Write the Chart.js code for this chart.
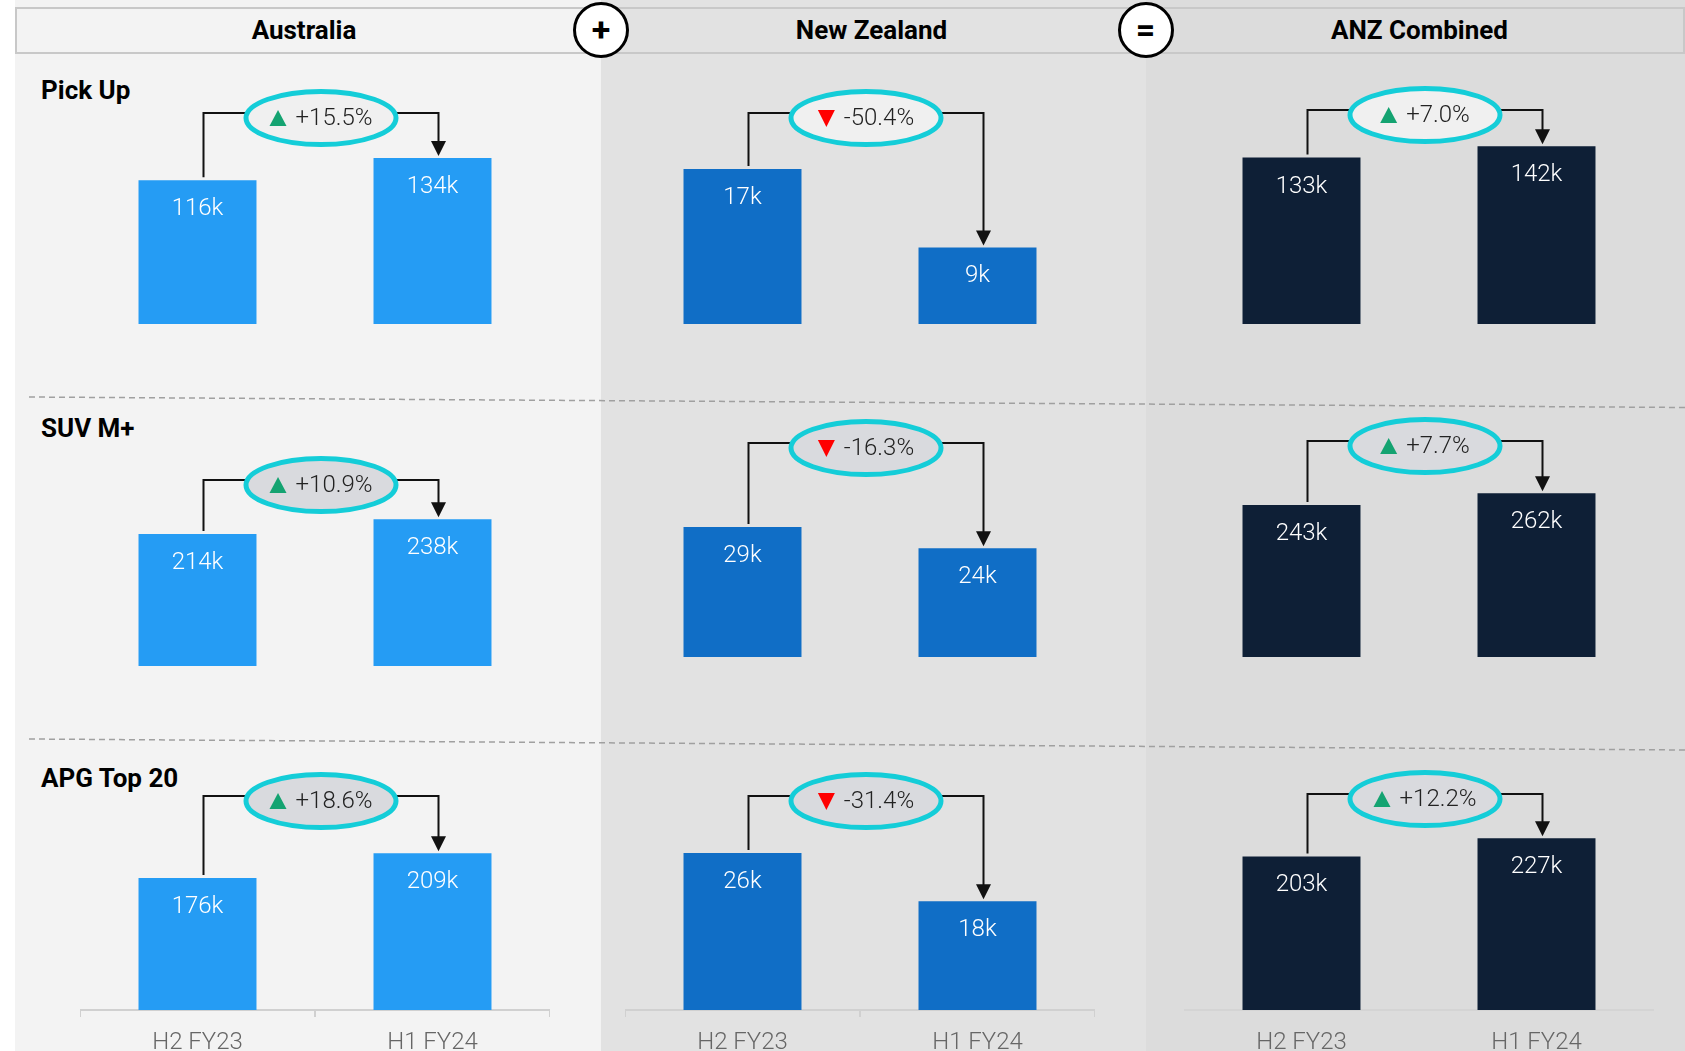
<!DOCTYPE html>
<html>
<head>
<meta charset="utf-8">
<script src="https://cdn.jsdelivr.net/npm/chart.js@4.4.1/dist/chart.umd.min.js"></script>
<style>
  html, body { margin: 0; padding: 0; overflow: hidden; background: #ffffff; }
  #page { position: relative; width: 1685px; height: 1051px; overflow: hidden; font-family: Roboto, 'Noto Sans', sans-serif; }
  .panel { position: absolute; top: 0; height: 1051px; }
  .header { position: absolute; left: 15px; top: 7px; width: 1666px; height: 43px; border: 2px solid #c8c8c8; }
  .title { position: absolute; top: 14px; width: 400px; text-align: center; font-size: 26px; font-weight: 700; line-height: 32px; color: #000; }
  .op { position: absolute; width: 50px; height: 50px; border: 3px solid #000; border-radius: 50%; background: #fff;
        font-size: 34px; font-weight: 700; line-height: 48px; text-align: center; color: #000; }
  .rowlabel { position: absolute; left: 41px; font-size: 26px; font-weight: 700; line-height: 32px; color: #000; }
  canvas { position: absolute; }
  svg { position: absolute; left: 0; top: 0; }
</style>
</head>
<body>
<div id="page">
  <div class="panel" style="left:15px;width:586px;background:#f3f3f3"></div>
  <div class="panel" style="left:601px;width:545px;background:#e2e2e2"></div>
  <div class="panel" style="left:1146px;width:539px;background:#dcdcdc"></div>
  <svg width="1685" height="1051">
    <line x1="29" y1="397" x2="1685" y2="407.5" stroke="#a0a0a0" stroke-width="1.5" stroke-dasharray="6,4"/>
    <line x1="29" y1="739" x2="1685" y2="750" stroke="#a0a0a0" stroke-width="1.5" stroke-dasharray="6,4"/>
  </svg>
  <div class="header"></div>
</div>
<script>
// Column and row names
const regions = ['Australia', 'New Zealand', 'ANZ Combined'];
const segments = ['Pick Up', 'SUV M+', 'APG Top 20'];
const periods = ['H2 FY23', 'H1 FY24'];

// Volumes in thousands, [H2 FY23, H1 FY24] per region
const pickUp = [[116, 134], [17.4, 8.6], [133, 142]];
const suvMPlus = [[214, 238], [28.8, 24.1], [243, 262]];
const apgTop20 = [[176, 209], [26, 18], [203, 227]];

// Period on period change (%) per region
const pickUpChange = [15.5, -50.4, 7.0];
const suvMPlusChange = [10.9, -16.3, 7.7];
const apgTop20Change = [18.6, -31.4, 12.2];

// Each small chart has its own y scale maximum (thousands)
const axisMax = [[197, 27.4, 195], [423, 55.8, 403], [340, 42.2, 337]];

const rowValues = [pickUp, suvMPlus, apgTop20];
const rowChanges = [pickUpChange, suvMPlusChange, apgTop20Change];

// Layout
const barColors = ['#259cf4', '#106ec6', '#0e1f36'];
const colLeft = [80, 625, 1184];
const plotWidth = 470;
const titleCenter = [304, 871.5, 1419.5];
const opCenter = [601, 1145.5];
const opSymbols = ['+', '='];
const rowTop = [80, 405, 755];
const rowBottom = [[323.5, 323.5, 323.5], [666, 657, 657], [1010, 1010, 1010]];
const rowLabelY = [90, 428, 778];
const bracketY = [[113, 113, 110], [480, 443, 441], [796, 796, 794]];
const ellipseFill = ['#f0f0f0', '#d9dade', '#d9dade'];
const AXIS_HEIGHT = 45;

const page = document.getElementById('page');

// Header titles and operators
regions.forEach((name, i) => {
    const d = document.createElement('div');
    d.className = 'title';
    d.style.left = (titleCenter[i] - 200) + 'px';
    d.textContent = name;
    page.appendChild(d);
});
opSymbols.forEach((s, i) => {
    const d = document.createElement('div');
    d.className = 'op';
    d.style.left = (opCenter[i] - 28) + 'px';
    d.style.top = (30 - 28) + 'px';
    d.textContent = s;
    page.appendChild(d);
});
segments.forEach((name, r) => {
    const d = document.createElement('div');
    d.className = 'rowlabel';
    d.style.top = (rowLabelY[r] - 16) + 'px';
    d.textContent = name;
    page.appendChild(d);
});

// Draws the value labels, the bracket arrow and the change bubble
const bracketPlugin = {
    id: 'bracket',
    afterDatasetsDraw(chart, args, opts) {
        const ctx = chart.ctx;
        const bars = chart.getDatasetMeta(0).data;
        const values = chart.data.datasets[0].data;

        ctx.save();
        // value labels inside bars
        ctx.font = '300 24px Roboto';
        ctx.fillStyle = '#ffffff';
        ctx.textAlign = 'center';
        ctx.textBaseline = 'middle';
        bars.forEach((b, i) => {
            ctx.fillText(Math.round(values[i]) + 'k', b.x, b.y + 29);
        });

        const b0 = bars[0], b1 = bars[1];
        const x0 = b0.x + 6, x1 = b1.x + 6;
        const y = opts.lineY;

        ctx.strokeStyle = '#111';
        ctx.lineWidth = 2;
        ctx.beginPath();
        ctx.moveTo(x0, b0.y - 3);
        ctx.lineTo(x0, y);
        ctx.lineTo(x1, y);
        ctx.lineTo(x1, b1.y - 15);
        ctx.stroke();

        ctx.fillStyle = '#111';
        ctx.beginPath();
        ctx.moveTo(x1 - 7.5, b1.y - 17);
        ctx.lineTo(x1 + 7.5, b1.y - 17);
        ctx.lineTo(x1, b1.y - 2);
        ctx.closePath();
        ctx.fill();

        // bubble
        const cx = (x0 + x1) / 2, cy = y + 5;
        ctx.beginPath();
        ctx.ellipse(cx, cy, 75, 26.5, 0, 0, Math.PI * 2);
        ctx.fillStyle = opts.fill;
        ctx.fill();
        ctx.lineWidth = 5;
        ctx.strokeStyle = '#14cdd8';
        ctx.stroke();

        const change = opts.change;
        const txt = (change > 0 ? '+' : '') + change.toFixed(1) + '%';
        ctx.font = '300 24px Roboto';
        const tw = ctx.measureText(txt).width;
        const triW = 17, gap = 9;
        const sx = cx - (triW + gap + tw) / 2;
        ctx.beginPath();
        if (change >= 0) {
            ctx.moveTo(sx, cy + 8);
            ctx.lineTo(sx + triW, cy + 8);
            ctx.lineTo(sx + triW / 2, cy - 8);
        } else {
            ctx.moveTo(sx, cy - 8);
            ctx.lineTo(sx + triW, cy - 8);
            ctx.lineTo(sx + triW / 2, cy + 9);
        }
        ctx.closePath();
        ctx.fillStyle = change >= 0 ? '#14a371' : '#ff0000';
        ctx.fill();

        ctx.fillStyle = '#222';
        ctx.textAlign = 'left';
        ctx.textBaseline = 'middle';
        ctx.fillText(txt, sx + triW + gap, cy + 1);
        ctx.restore();
    }
};

// Build the 9 small charts
rowValues.forEach((rowData, r) => {
    rowData.forEach((vals, c) => {
        const showAxis = r === rowValues.length - 1;
        const plotH = rowBottom[r][c] - rowTop[r];
        const canvas = document.createElement('canvas');
        canvas.width = plotWidth;
        canvas.height = Math.round(plotH + (showAxis ? AXIS_HEIGHT : 0));
        canvas.style.left = colLeft[c] + 'px';
        canvas.style.top = rowTop[r] + 'px';
        page.appendChild(canvas);

        const axisColor = c === 2 ? '#d4d4d4' : '#d0d0d0';

        const xScale = {
            display: showAxis,
            grid: {
                display: true,
                drawOnChartArea: false,
                drawTicks: true,
                tickLength: 7,
                lineWidth: 2,
                color: axisColor,
                tickColor: c === 2 ? 'rgba(0,0,0,0)' : axisColor
            },
            border: { display: true, color: axisColor, width: 2 },
            ticks: {
                color: '#666666',
                padding: 12,
                font: { family: 'Roboto', size: 24, weight: '300' },
                maxRotation: 0
            }
        };
        if (showAxis) {
            xScale.afterFit = (scale) => { scale.height = AXIS_HEIGHT; };
        }

        new Chart(canvas.getContext('2d'), {
            type: 'bar',
            data: {
                labels: periods,
                datasets: [{
                    data: vals,
                    backgroundColor: barColors[c],
                    borderWidth: 0,
                    barPercentage: 0.502,
                    categoryPercentage: 1.0
                }]
            },
            options: {
                responsive: false,
                animation: false,
                layout: { padding: 0 },
                plugins: {
                    legend: { display: false },
                    tooltip: { enabled: false },
                    bracket: {
                        lineY: bracketY[r][c] - rowTop[r],
                        fill: ellipseFill[r],
                        change: rowChanges[r][c]
                    }
                },
                scales: {
                    x: xScale,
                    y: {
                        display: false,
                        min: 0,
                        max: axisMax[r][c]
                    }
                }
            },
            plugins: [bracketPlugin]
        });
    });
});
</script>
</body>
</html>
